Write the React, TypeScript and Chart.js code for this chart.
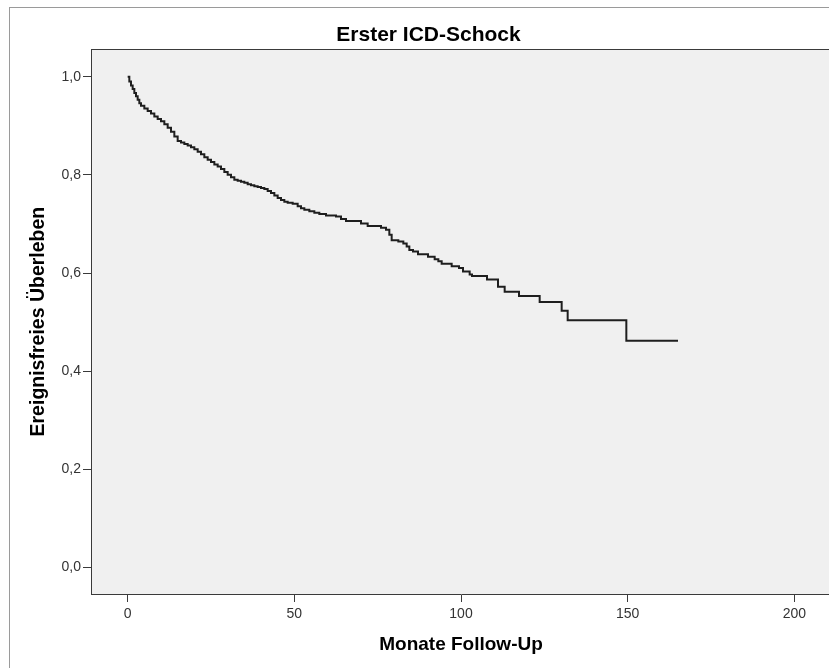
import React, { useEffect, useRef } from "react";
import { Chart, registerables } from "chart.js";

Chart.register(...registerables);

// Kaplan-Meier estimate: event times (months) and survival after each event
const months = [
  0, 0.5, 1.0, 1.5, 2.0, 2.5, 3.0, 3.5, 4.0, 5.0, 6.0, 7.0, 8.0, 9.0, 10.0,
  11.0, 12.0, 13.0, 14.0, 15.0, 16.0, 17.0, 18.0, 19.0, 20.0, 21.0, 22.0,
  23.0, 24.0, 25.0, 26.0, 27.0, 28.0, 29.0, 30.0, 31.0, 32.0, 33.0, 34.0,
  35.0, 36.0, 37.0, 38.0, 39.0, 40.0, 41.0, 42.0, 43.0, 44.0, 45.0, 46.0,
  47.0, 48.0, 49.5, 51.0, 52.0, 53.0, 54.5, 56.0, 57.5, 59.5, 62.5, 64.0,
  65.5, 70.0, 72.0, 76.0, 77.5, 78.5, 79.2, 81.2, 82.7, 83.7, 84.5, 85.6,
  87.1, 90.1, 92.1, 93.2, 94.2, 97.2, 99.4, 100.6, 102.6, 103.3, 107.8,
  111.1, 113.1, 117.4, 123.6, 130.2, 132.0, 149.6, 165.1,
];
const survival = [
  1.0, 0.99, 0.982, 0.975, 0.967, 0.96, 0.953, 0.946, 0.941, 0.935, 0.93,
  0.925, 0.919, 0.914, 0.909, 0.903, 0.896, 0.888, 0.878, 0.869, 0.866,
  0.863, 0.86, 0.856, 0.852, 0.847, 0.842, 0.836, 0.831, 0.826, 0.821,
  0.817, 0.812, 0.806, 0.8, 0.795, 0.79, 0.788, 0.786, 0.784, 0.781, 0.779,
  0.777, 0.775, 0.773, 0.771, 0.767, 0.763, 0.758, 0.753, 0.749, 0.745,
  0.743, 0.741, 0.736, 0.732, 0.729, 0.726, 0.723, 0.72, 0.717, 0.715,
  0.71, 0.706, 0.701, 0.696, 0.692, 0.688, 0.678, 0.667, 0.664, 0.66,
  0.654, 0.647, 0.644, 0.638, 0.633, 0.628, 0.624, 0.619, 0.614, 0.61,
  0.603, 0.597, 0.594, 0.587, 0.572, 0.562, 0.553, 0.541, 0.523, 0.504,
  0.462, 0.462,
];
const xTicks = [0, 50, 100, 150, 200];
const yTicks = [0, 0.2, 0.4, 0.6, 0.8, 1.0];

const titleText = "Erster ICD-Schock";
const xTitle = "Monate Follow-Up";
const yTitle = "Ereignisfreies Überleben";

const FONT = "'Liberation Sans', Arial, sans-serif";

const frame = {
  id: "frame",
  beforeDraw(chart: any) {
    const { ctx, chartArea: a, width, height } = chart;
    ctx.save();
    ctx.fillStyle = "#ffffff";
    ctx.fillRect(0, 0, width, height);
    ctx.strokeStyle = "#9a9a9a";
    ctx.lineWidth = 1;
    ctx.strokeRect(9.5, 7.5, width, height);
    ctx.fillStyle = "#f0f0f0";
    ctx.fillRect(a.left, a.top, a.right - a.left, a.bottom - a.top);
    ctx.restore();
  },
  afterDraw(chart: any) {
    const { ctx, chartArea: a } = chart;
    ctx.save();
    ctx.strokeStyle = "#3a3a3a";
    ctx.lineWidth = 1;
    ctx.beginPath();
    ctx.moveTo(a.left, Math.round(a.top) + 0.5);
    ctx.lineTo(a.right, Math.round(a.top) + 0.5);
    ctx.lineTo(a.right, a.bottom);
    ctx.stroke();
    ctx.restore();
  },
};

export default function App() {
  const ref = useRef<HTMLCanvasElement | null>(null);

  useEffect(() => {
    if (!ref.current) return;
    const chart = new Chart(ref.current, {
      type: "line",
      data: {
        datasets: [
          {
            data: months.map((m, i) => ({ x: m, y: survival[i] })),
            stepped: "before",
            borderColor: "#1e1e1e",
            borderWidth: 2,
            pointRadius: 0,
            fill: false,
          },
        ],
      },
      options: {
        animation: false,
        responsive: false,
        devicePixelRatio: 1,
        layout: { padding: { left: 26, right: 25, top: 0, bottom: 0 } },
        plugins: {
          legend: { display: false },
          tooltip: { enabled: false },
          title: {
            display: true,
            text: titleText,
            color: "#000",
            font: { family: FONT, size: 21, weight: "bold" },
            padding: { top: 23, bottom: 1 },
          },
        },
        scales: {
          x: {
            type: "linear",
            min: -11,
            max: 211,
            afterFit(scale: any) {
              scale.height = 74;
            },
            afterBuildTicks(scale: any) {
              scale.ticks = xTicks.map((v) => ({ value: v }));
            },
            grid: {
              drawOnChartArea: false,
              drawTicks: true,
              tickLength: 8,
              color: "#3a3a3a",
              lineWidth: 1,
            },
            border: { display: true, color: "#3a3a3a", width: 1 },
            ticks: {
              color: "#333",
              padding: 4,
              maxRotation: 0,
              font: { family: FONT, size: 14 },
              callback: (v: any) => String(v),
            },
            title: {
              display: true,
              text: xTitle,
              color: "#000",
              font: { family: FONT, size: 19, weight: "bold" },
              padding: { top: 0, bottom: 12 },
            },
          },
          y: {
            type: "linear",
            min: -0.054,
            max: 1.056,
            afterFit(scale: any) {
              scale.width = 65;
            },
            afterBuildTicks(scale: any) {
              scale.ticks = yTicks.map((v) => ({ value: v }));
            },
            grid: {
              drawOnChartArea: false,
              drawTicks: true,
              tickLength: 8,
              color: "#3a3a3a",
              lineWidth: 1,
            },
            border: { display: true, color: "#3a3a3a", width: 1 },
            ticks: {
              color: "#333",
              padding: 2,
              font: { family: FONT, size: 14 },
              callback: (v: any) => Number(v).toFixed(1).replace(".", ","),
            },
            title: {
              display: true,
              text: yTitle,
              color: "#000",
              font: { family: FONT, size: 19.5, weight: "bold" },
              padding: { top: 1, bottom: 0 },
            },
          },
        },
      },
      plugins: [frame],
    });
    return () => chart.destroy();
  }, []);

  return (
    <div
      style={{
        position: "fixed",
        left: 0,
        top: 0,
        width: 829,
        height: 668,
        overflow: "hidden",
        background: "#fff",
      }}
    >
      <canvas
        ref={ref}
        width={856}
        height={668}
        style={{ display: "block", width: 856, height: 668 }}
      />
    </div>
  );
}
